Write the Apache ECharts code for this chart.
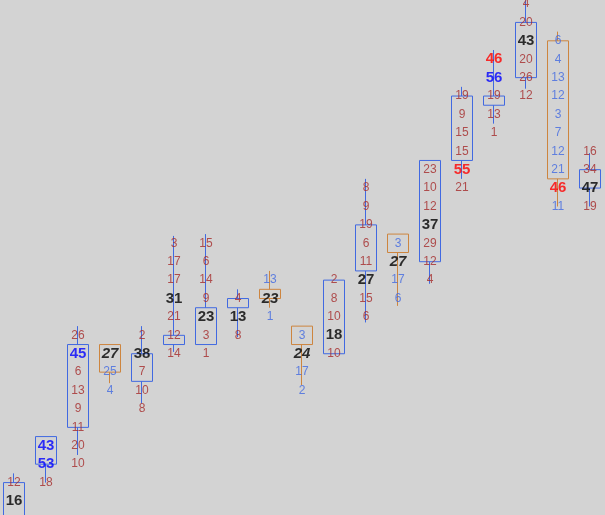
<!DOCTYPE html>
<html>
<head>
<meta charset="utf-8">
<script src="https://cdn.jsdelivr.net/npm/echarts@6/dist/echarts.min.js"></script>
<style>
html,body{margin:0;padding:0;background:#D3D3D3;}
#chart{width:605px;height:515px;}
</style>
</head>
<body>
<div id="chart"></div>
<script>
// column positions (19 columns, no visible axis labels)
const columns = [0, 1, 2, 3, 4, 5, 6, 7, 8, 9, 10, 11, 12, 13, 14, 15, 16, 17, 18];
// candle values in level units: [open, close, low, high]; open<close = blue, open>close = orange
const candles = [
  [26, 28.5, 25.5, 29],
  [23.5, 25, 23.5, 26],
  [18.5, 23, 17.5, 24.5],
  [20, 18.5, 18.5, 20.6],
  [19, 20.5, 17.5, 21.7],
  [18, 18.5, 12.6, 18.9],
  [16.5, 18.5, 12.5, 18.5],
  [16, 16.5, 15.5, 18.1],
  [16, 15.5, 14.5, 16.5],
  [18.5, 17.5, 17.5, 20.7],
  [15, 19, 15, 19],
  [12, 14.5, 9.5, 17.3],
  [13.5, 12.5, 12.5, 16.4],
  [8.5, 14, 8.5, 15.2],
  [5, 8.5, 4.5, 9.5],
  [5, 5.5, 2.5, 6.5],
  [1, 4, -0.2, 4.6],
  [9.5, 2, 1.5, 11],
  [9, 10, 8.1, 11]
];
// first level of each column's number stack
const labelStart = [26, 24, 18, 19, 18, 13, 13, 16, 15, 18, 15, 10, 13, 9, 5, 3, 0, 2, 8];
// numbers stacked down each column
const labelValues = [
  [12, 16],
  [43, 53, 18],
  [26, 45, 6, 13, 9, 11, 20, 10],
  [27, 25, 4],
  [2, 38, 7, 10, 8],
  [3, 17, 17, 31, 21, 12, 14],
  [15, 6, 14, 9, 23, 3, 1],
  [4, 13, 8],
  [13, 23, 1],
  [3, 24, 17, 2],
  [2, 8, 10, 18, 10],
  [8, 9, 19, 6, 11, 27, 15, 6],
  [3, 27, 17, 6],
  [23, 10, 12, 37, 29, 12, 4],
  [19, 9, 15, 15, 55, 21],
  [46, 56, 19, 13, 1],
  [4, 20, 43, 20, 26, 12],
  [6, 4, 13, 12, 3, 7, 12, 21, 46, 11],
  [16, 34, 47, 19]
];
// kind of each number: n = plain, k = key black, b = key blue, r = key red
const labelKinds = [
  'nk', 'bbn', 'nbnnnnnn', 'knn', 'nknnn', 'nnnknnn', 'nnnnknn', 'nkn', 'nkn', 'nknn',
  'nnnkn', 'nnnnnknn', 'nknn', 'nnnknnn', 'nnnnrn', 'rbnnn', 'nnknnn', 'nnnnnnnnrn', 'nnkn'
];

const BLUE = '#4169E1', ORANGE = '#CD853F';
const candleData = candles.map((c, i) => [columns[i]].concat(c));
const labelData = [];
labelValues.forEach((vals, c) => {
  const down = candles[c][0] > candles[c][1];
  vals.forEach((v, i) => {
    const kind = labelKinds[c][i];
    let style;
    if (kind === 'n') style = {color: down ? BLUE : '#A52A2A', fontSize: 12, fontWeight: 'normal'};
    else if (kind === 'k') style = {color: '#000', fontSize: 15, fontWeight: 'bold', fontStyle: down ? 'italic' : 'normal'};
    else if (kind === 'b') style = {color: '#0000FF', fontSize: 15, fontWeight: 'bold'};
    else style = {color: '#FF0000', fontSize: 15, fontWeight: 'bold'};
    labelData.push({value: [columns[c], labelStart[c] + i, String(v)], label: style});
  });
});

const chart = echarts.init(document.getElementById('chart'));
chart.setOption({
  backgroundColor: '#D3D3D3',
  animation: false,
  grid: {left: 0, right: 0, top: 4, height: 497},
  xAxis: {type: 'value', min: -0.4375, max: 18.46875, show: false},
  yAxis: {type: 'value', min: 0, max: 27, inverse: true, show: false},
  series: [
    {
      type: 'candlestick',
      data: candleData,
      encode: {x: 0, y: [1, 2, 3, 4]},
      barWidth: 22,
      clip: false,
      itemStyle: {color: 'transparent', color0: 'transparent', borderColor: BLUE, borderColor0: ORANGE, borderWidth: 1}
    },
    {
      type: 'scatter',
      data: labelData,
      symbolSize: 0,
      clip: false,
      z: 5,
      label: {show: true, position: 'inside', fontFamily: 'Liberation Sans, Arial, sans-serif', formatter: p => p.value[2]}
    }
  ]
});
</script>
</body>
</html>
